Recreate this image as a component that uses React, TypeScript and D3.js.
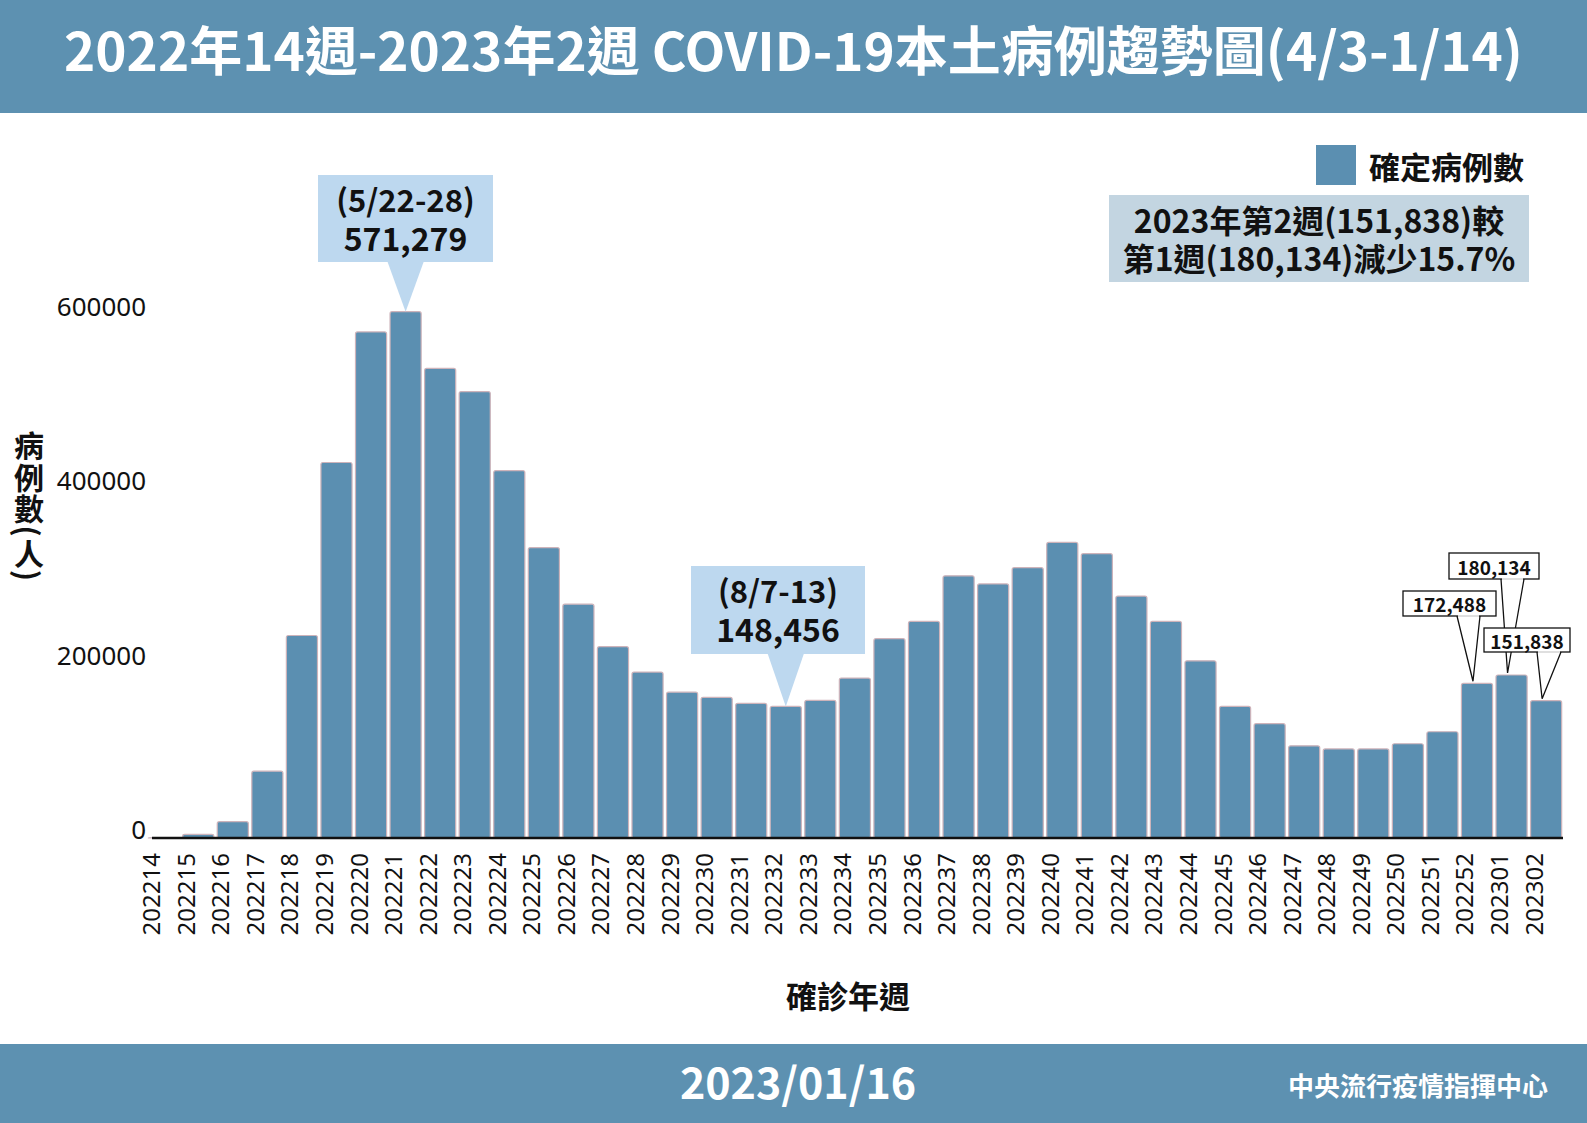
import React from "react";
import * as d3 from "d3";

const weeks = [
  "202214","202215","202216","202217","202218","202219","202220","202221","202222","202223",
  "202224","202225","202226","202227","202228","202229","202230","202231","202232","202233",
  "202234","202235","202236","202237","202238","202239","202240","202241","202242","202243",
  "202244","202245","202246","202247","202248","202249","202250","202251","202252","202301","202302",
];
const cases = [
  200, 4200, 18700, 76700, 232300, 430800, 580600, 603800, 538700, 512100,
  421500, 333200, 268200, 219500, 190400, 167300, 161400, 154500, 151000, 158000,
  183500, 228700, 248500, 300800, 291500, 310100, 339100, 326200, 277500, 248500,
  203300, 151000, 131200, 105800, 102200, 102200, 108100, 121900, 177500, 187000, 157500,
];
const yTicks = [0, 200000, 400000, 600000];

const titleText = "2022年14週-2023年2週 COVID-19本土病例趨勢圖(4/3-1/14)";
const dateText = "2023/01/16";
const orgText = "中央流行疫情指揮中心";
const legendText = "確定病例數";
const infoLines = ["2023年第2週(151,838)較", "第1週(180,134)減少15.7%"];
const xTitle = "確診年週";
const yTitle = "病例數(人)";

const peakCallouts = [
  { week: "202221", lines: ["(5/22-28)", "571,279"], box: [318, 175, 175, 87] },
  { week: "202232", lines: ["(8/7-13)", "148,456"], box: [691, 566, 174, 88] },
];
const smallCallouts = [
  { week: "202252", label: "172,488", box: [1403, 591, 93, 25], base: [1457, 1480] },
  { week: "202301", label: "180,134", box: [1449, 553, 90, 26], base: [1501, 1524] },
  { week: "202302", label: "151,838", box: [1484, 628, 86, 24], base: [1537, 1561] },
];

const W = 1587;
const H = 1123;
const barColor = "#5b8fb1";
const bandColor = "#5d91b1";
const CJK = "'Noto Sans CJK TC', 'Noto Sans', sans-serif";
const LAT = "'Noto Sans', 'Open Sans', sans-serif";

export default function App() {
  const x = d3.scaleBand<string>().domain(weeks).range([146.4, 1563.4]).paddingInner(0.1).paddingOuter(0.05);
  const y = d3.scaleLinear().domain([0, 600000]).range([838, 315]);
  const bw = x.bandwidth();
  const fmt = d3.format("d");
  const cx = (w: string) => (x(w) as number) + bw / 2;
  const val = (w: string) => cases[weeks.indexOf(w)];

  return (
    <svg width={W} height={H} viewBox={`0 0 ${W} ${H}`} style={{ position: "absolute", left: 0, top: 0, background: "#fff" }}>
      {/* header */}
      <rect x={0} y={0} width={W} height={113} fill={bandColor} />
      <text x={W / 2} y={48} textAnchor="middle" dominantBaseline="central" fill="#fff" fontFamily={CJK} fontWeight={700} fontSize={53}>
        {titleText}
      </text>

      {/* bars */}
      {weeks.map((w, i) => (
        <rect key={w} x={x(w)} y={y(cases[i])} width={bw} height={Math.max(0, y(0) - y(cases[i]))} rx={2}
          fill={barColor} stroke="#cdb3ba" strokeWidth={1.2} />
      ))}

      {/* x axis */}
      <line x1={152} x2={1563} y1={y(0)} y2={y(0)} stroke="#111" strokeWidth={2.5} />
      {weeks.map((w) => (
        <text key={"t" + w} transform={`translate(${cx(w) - 13},${853}) rotate(-90)`} textAnchor="end" dominantBaseline="central"
          fontFamily={LAT} fontSize={24} fill="#111">
          {w}
        </text>
      ))}

      {/* y ticks */}
      {yTicks.map((t) => (
        <text key={"y" + t} x={146} y={y(t) - 9} textAnchor="end" dominantBaseline="central" fontFamily={LAT} fontSize={26} fill="#111">
          {fmt(t)}
        </text>
      ))}

      {/* axis titles */}
      <text x={29} y={431} style={{ writingMode: "vertical-rl" as any, letterSpacing: "1.5px" }} fontFamily={CJK} fontWeight={700} fontSize={30} fill="#111">
        {yTitle}
      </text>
      <text x={848} y={994} textAnchor="middle" dominantBaseline="central" fontFamily={CJK} fontWeight={700} fontSize={31} fill="#111">
        {xTitle}
      </text>

      {/* big callouts */}
      {peakCallouts.map((c) => {
        const [bx, by, bwid, bh] = c.box;
        const tipX = cx(c.week);
        const tipY = y(val(c.week));
        return (
          <g key={c.week}>
            <rect x={bx} y={by} width={bwid} height={bh} fill="#bdd8ef" />
            <path d={`M${tipX - 18},${by + bh} L${tipX},${tipY} L${tipX + 18},${by + bh} Z`} fill="#bdd8ef" />
            <text x={bx + bwid / 2} y={by + 23} textAnchor="middle" dominantBaseline="central" fontFamily={CJK} fontWeight={700} fontSize={31} fill="#111">
              {c.lines[0]}
            </text>
            <text x={bx + bwid / 2} y={by + 62} textAnchor="middle" dominantBaseline="central" fontFamily={CJK} fontWeight={700} fontSize={32} fill="#111">
              {c.lines[1]}
            </text>
          </g>
        );
      })}

      {/* small callouts */}
      {smallCallouts.map((c) => {
        const [bx, by, bwid, bh] = c.box;
        const tipX = cx(c.week) - 4;
        const tipY = y(val(c.week)) - 2;
        return (
          <g key={c.week}>
            <path d={`M${c.base[0]},${by + bh} L${tipX},${tipY} L${c.base[1]},${by + bh}`} fill="#fff" stroke="#111" strokeWidth={1.3} />
            <rect x={bx} y={by} width={bwid} height={bh} fill="#fff" stroke="#111" strokeWidth={1.3} />
            <line x1={c.base[0] + 1} x2={c.base[1] - 1} y1={by + bh} y2={by + bh} stroke="#fff" strokeWidth={1.6} />
            <text x={bx + bwid / 2} y={by + bh / 2} textAnchor="middle" dominantBaseline="central" fontFamily={CJK} fontWeight={700} fontSize={19} fill="#111">
              {c.label}
            </text>
          </g>
        );
      })}

      {/* legend */}
      <rect x={1316} y={145} width={40} height={40} fill={barColor} />
      <text x={1369} y={165} dominantBaseline="central" fontFamily={CJK} fontWeight={700} fontSize={31} fill="#111">
        {legendText}
      </text>

      {/* info box */}
      <rect x={1109} y={195} width={420} height={87} fill="#c3d5e1" />
      {infoLines.map((l, i) => (
        <text key={l} x={1319} y={219 + i * 38} textAnchor="middle" dominantBaseline="central" fontFamily={CJK} fontWeight={700} fontSize={32} fill="#111">
          {l}
        </text>
      ))}

      {/* footer */}
      <rect x={0} y={1044} width={W} height={H - 1044} fill={bandColor} />
      <text x={798} y={1080} textAnchor="middle" dominantBaseline="central" fill="#fff" fontFamily={CJK} fontWeight={700} fontSize={43}>
        {dateText}
      </text>
      <text x={1548} y={1084} textAnchor="end" dominantBaseline="central" fill="#fff" fontFamily={CJK} fontWeight={700} fontSize={26}>
        {orgText}
      </text>
    </svg>
  );
}
